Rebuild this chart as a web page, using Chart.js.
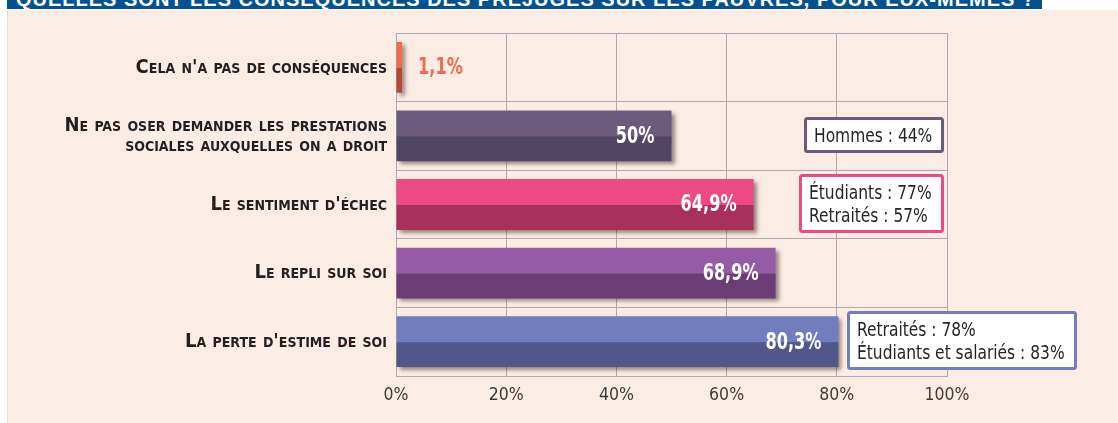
<!DOCTYPE html>
<html lang="fr">
<head>
<meta charset="utf-8">
<title>Conséquences des préjugés</title>
<script src="https://cdn.jsdelivr.net/npm/chart.js@4.4.1/dist/chart.umd.min.js"></script>
<style>
  html, body { margin: 0; padding: 0; background: #fff; }
  body { width: 1118px; height: 423px; position: relative; overflow: hidden; }
  .panel { position: absolute; left: 7px; top: 10px; right: 0; bottom: 0; background: #fcede4; border-left: 1px solid #dedede; }
  .banner { position: absolute; left: 7px; top: 0; width: 1035px; height: 9px; background: #03518f; overflow: hidden; }
  .banner span { position: absolute; left: 9px; top: -11px; font: bold 20px/20px 'Liberation Sans', Arial, sans-serif; letter-spacing: 1px; color: #fff; white-space: nowrap; }
  .chart-box { position: absolute; left: 0; top: 0; width: 1118px; height: 423px; }
</style>
</head>
<body>
<div class="panel"></div>
<div class="banner"><span>QUELLES SONT LES CONSÉQUENCES DES PRÉJUGÉS SUR LES PAUVRES, POUR EUX-MÊMES ?</span></div>
<div class="chart-box"><canvas id="chart"></canvas></div>

<script>
// ── Data ────────────────────────────────────────────────────────────────
const CATEGORIES = [
  "Cela n'a pas de conséquences",
  ['Ne pas oser demander les prestations', 'sociales auxquelles on a droit'],
  "Le sentiment d'échec",
  'Le repli sur soi',
  "La perte d'estime de soi",
];
const VALUES  = [1.1, 50, 64.9, 68.9, 80.3];
const X_TICKS = [0, 20, 40, 60, 80, 100];
const NOTES = [
  null,
  ['Hommes : 44%'],
  ['Étudiants : 77%', 'Retraités : 57%'],
  null,
  ['Retraités : 78%', 'Étudiants et salariés : 83%'],
];

// ── Style ───────────────────────────────────────────────────────────────
const TOP_COLORS    = ['#f06a4b', '#6a5a7c', '#ec4a82', '#965ba5', '#717dbd'];
const BOTTOM_COLORS = ['#b04a37', '#504562', '#a9305b', '#6a3d76', '#4f5889'];
const GRID   = '#aaaab4';
const NARROW = "'DejaVu Sans Condensed', 'Liberation Sans Narrow', sans-serif";

function fmtPct(v) {
  return (Number.isInteger(v) ? String(v) : v.toFixed(1).replace('.', ',')) + '%';
}

// Text squeezed horizontally around its anchor point
function fillSqueezed(ctx, text, x, y, sx) {
  ctx.save();
  ctx.translate(x, y);
  ctx.scale(sx, 1);
  ctx.fillText(text, 0, 0);
  ctx.restore();
}

// Two-tone bar: light upper half, dark lower half, split at the bar centre
function splitFill(c) {
  const y = c.chart.scales.y;
  const i = c.dataIndex;
  if (!y || y.top === undefined) return TOP_COLORS[i];
  const mid = y.getPixelForValue(i);
  const g = c.chart.ctx.createLinearGradient(0, mid, 0, mid + 1);
  g.addColorStop(0, TOP_COLORS[i]);
  g.addColorStop(1, BOTTOM_COLORS[i]);
  return g;
}

// ── Plugins ─────────────────────────────────────────────────────────────
const barShadow = {
  id: 'barShadow',
  beforeDatasetDraw(chart) {
    const ctx = chart.ctx;
    ctx.save();
    ctx.shadowColor   = 'rgba(50,30,30,0.5)';
    ctx.shadowBlur    = 4;
    ctx.shadowOffsetX = 3;
    ctx.shadowOffsetY = 3;
  },
  afterDatasetDraw(chart) {
    chart.ctx.restore();
  },
};

const valueLabels = {
  id: 'valueLabels',
  afterDatasetsDraw(chart) {
    const { ctx } = chart;
    const values = chart.data.datasets[0].data;
    const sx = 0.78;
    ctx.save();
    ctx.font = `bold 23px ${NARROW}`;
    ctx.textBaseline = 'middle';
    chart.getDatasetMeta(0).data.forEach((bar, i) => {
      const text = fmtPct(values[i]);
      const w = ctx.measureText(text).width * sx;
      if (bar.x - bar.base > w + 30) {
        ctx.fillStyle = '#fff';
        ctx.textAlign = 'right';
        fillSqueezed(ctx, text, bar.x - 17, bar.y + 1, sx);
      } else {
        ctx.fillStyle = TOP_COLORS[i];
        ctx.textAlign = 'left';
        fillSqueezed(ctx, text, bar.x + 16, bar.y + 1, sx);
      }
    });
    ctx.restore();
  },
};

// Framed side notes, pushed against the right edge unless the bar is in the way
const sideNotes = {
  id: 'sideNotes',
  afterDraw(chart) {
    const { ctx, chartArea } = chart;
    const meta = chart.getDatasetMeta(0);
    const yScale = chart.scales.y;
    const sx = 0.86;
    ctx.save();
    ctx.font = `20px ${NARROW}`;
    ctx.textBaseline = 'alphabetic';
    ctx.textAlign = 'left';
    NOTES.forEach((lines, i) => {
      if (!lines) return;
      const textW = Math.max(...lines.map(l => ctx.measureText(l).width)) * sx;
      const w = Math.round(textW + 22);
      const h = lines.length * 23 + 13;
      const bar = meta.data[i];
      let left = Math.round(chartArea.right - 3 - w);
      if (left < bar.x + 9) left = Math.round(bar.x + 9);
      const top = Math.round(yScale.getPixelForValue(i) - h / 2 - 1);

      ctx.beginPath();
      ctx.roundRect(left + 1.5, top + 1.5, w - 3, h - 3, 2);
      ctx.fillStyle = '#fff';
      ctx.fill();
      ctx.lineWidth = 3;
      ctx.strokeStyle = TOP_COLORS[i];
      ctx.stroke();

      ctx.fillStyle = '#262626';
      lines.forEach((l, k) => fillSqueezed(ctx, l, left + 10, top + 25 + k * 23, sx));
    });
    ctx.restore();
  },
};

// ── Chart ───────────────────────────────────────────────────────────────
new Chart(document.getElementById('chart'), {
  type: 'bar',
  data: {
    labels: CATEGORIES,
    datasets: [{
      data: VALUES,
      backgroundColor: splitFill,
      borderWidth: 0,
      barPercentage: 0.74,
      categoryPercentage: 1,
    }],
  },
  options: {
    indexAxis: 'y',
    responsive: true,
    maintainAspectRatio: false,
    animation: false,
    layout: { padding: { top: 33, right: 171, bottom: 0, left: 0 } },
    plugins: {
      legend:  { display: false },
      tooltip: { enabled: false },
    },
    scales: {
      x: {
        min: 0,
        max: 100,
        afterBuildTicks: s => { s.ticks = X_TICKS.map(value => ({ value })); },
        afterFit: s => { s.height = 47; },
        grid:   { color: GRID, drawTicks: false },
        border: { color: GRID },
        ticks: {
          color: '#3a3a3a',
          padding: 9,
          font: { family: NARROW, size: 17.5 },
          callback: v => v + '%',
        },
      },
      y: {
        afterFit: s => { s.width = 396; },
        grid:   { color: GRID, offset: true, drawTicks: false },
        border: { color: GRID },
        ticks: {
          color: '#231f20',
          padding: 9,
          // weight carries the small-caps variant into the canvas font string
          font: { family: NARROW, size: 20, weight: 'small-caps bold', lineHeight: 1 },
        },
      },
    },
  },
  plugins: [barShadow, valueLabels, sideNotes],
});
</script>
</body>
</html>
